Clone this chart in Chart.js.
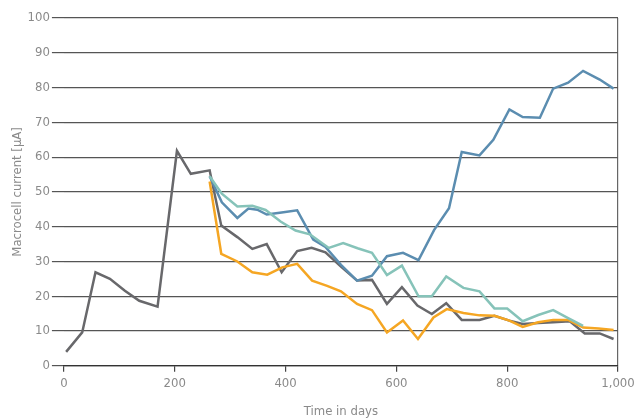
<!DOCTYPE html>
<html>
<head>
<meta charset="utf-8">
<script src="https://cdn.jsdelivr.net/npm/chart.js@4"></script>
<style>
  html, body { margin: 0; padding: 0; background: #fff; }
  #wrap { width: 642px; height: 419px; }
</style>
</head>
<body>
<div id="wrap"><canvas id="chart"></canvas></div>
<script>
// données : [jour, courant µA]
const serieGris = [
  [4, 4], [33, 9.6], [57, 26.9], [83, 25], [110, 21.6], [136, 18.7], [169, 17],
  [204, 61.8], [229, 55.2], [263, 56.2], [284, 40.3], [313, 37], [340, 33.6],
  [366, 35], [393, 26.9], [421, 33], [447, 33.9], [472, 32.6], [500, 28.5],
  [529, 24.5], [556, 24.7], [583, 17.8], [610, 22.6], [638, 17.3], [664, 14.9],
  [690, 18], [718, 13.2], [750, 13.2], [777, 14.4], [804, 13], [828, 12],
  [856, 12.3], [883, 12.5], [913, 12.8], [940, 9.3], [967, 9.3], [992, 7.7]
];
const serieBleu = [
  [263, 54.5], [285, 47], [313, 42.5], [333, 45.2], [349, 44.9], [366, 43.5],
  [393, 44.1], [421, 44.7], [450, 36.3], [472, 34.2], [500, 29], [529, 24.5],
  [556, 25.9], [583, 31.5], [612, 32.5], [640, 30.4], [668, 39], [695, 45.3],
  [718, 61.5], [750, 60.5], [775, 65], [804, 73.7], [828, 71.5], [859, 71.3],
  [883, 79.7], [910, 81.4], [937, 84.8], [967, 82.3], [992, 79.7]
];
const serieTurquoise = [
  [263, 54.5], [285, 49.5], [313, 45.8], [340, 46], [364, 44.8], [391, 41.5],
  [418, 38.9], [444, 37.8], [478, 33.9], [504, 35.3], [530, 33.8], [556, 32.5],
  [583, 26.1], [610, 28.8], [640, 20], [664, 20], [690, 25.7], [721, 22.4],
  [750, 21.4], [777, 16.5], [800, 16.5], [828, 12.8], [856, 14.6], [883, 16],
  [910, 13.7], [937, 11.5]
];
const serieOrange = [
  [263, 53], [284, 32.2], [313, 30], [340, 26.9], [367, 26.2], [394, 28.3],
  [421, 29.3], [448, 24.5], [475, 23], [500, 21.4], [529, 17.8], [556, 16],
  [583, 9.6], [612, 13], [639, 7.7], [667, 13.9], [691, 16.3], [721, 15.2],
  [750, 14.5], [777, 14.4], [804, 13], [828, 11.2], [856, 12.5], [883, 13.2],
  [910, 13.2], [937, 11], [965, 10.7], [992, 10.3]
];
const titreX = 'Time in days';
const titreY = 'Macrocell current [µA]';

const police = "'Liberation Sans Narrow', 'DejaVu Sans Condensed', sans-serif";
const gris = '#8a8a8a';

function versPoints(serie) {
  return serie.map(p => ({ x: p[0], y: p[1] }));
}

function jeu(serie, couleur) {
  return {
    data: versPoints(serie),
    borderColor: couleur,
    borderWidth: 2.5,
    pointRadius: 0,
    tension: 0,
    fill: false
  };
}

const ctx = document.getElementById('chart').getContext('2d');
const chart = new Chart(ctx, {
  type: 'line',
  data: {
    datasets: [
      jeu(serieTurquoise, '#86c3b9'),
      jeu(serieOrange, '#f5a623'),
      jeu(serieBleu, '#5b8db0'),
      jeu(serieGris, '#68686b')
    ]
  },
  options: {
    responsive: true,
    maintainAspectRatio: false,
    animation: false,
    layout: { padding: { top: 18, right: 24, left: 6, bottom: 0 } },
    plugins: {
      legend: { display: false },
      tooltip: { enabled: false }
    },
    scales: {
      x: {
        type: 'linear',
        min: 0,
        max: 1000,
        ticks: { stepSize: 200, color: gris, font: { family: police, size: 13 }, padding: 4 },
        grid: {
          color: c => (c.tick && c.tick.value === 1000) ? '#666' : 'rgba(0,0,0,0)',
          tickColor: '#444',
          tickLength: 6,
          lineWidth: 1.2
        },
        border: { color: '#333', width: 1.2 },
        title: { display: true, text: titreX, color: gris, font: { family: police, size: 13 }, padding: { top: 8, bottom: 0 } }
      },
      y: {
        min: 0,
        max: 100,
        ticks: { stepSize: 10, color: gris, font: { family: police, size: 13 }, padding: 2 },
        grid: { color: '#555', tickColor: '#555', tickLength: 12, lineWidth: 1.2 },
        border: { display: false },
        title: { display: true, text: titreY, color: gris, font: { family: police, size: 13 }, padding: { top: 4, bottom: 0 } }
      }
    }
  }
});
</script>
</body>
</html>
